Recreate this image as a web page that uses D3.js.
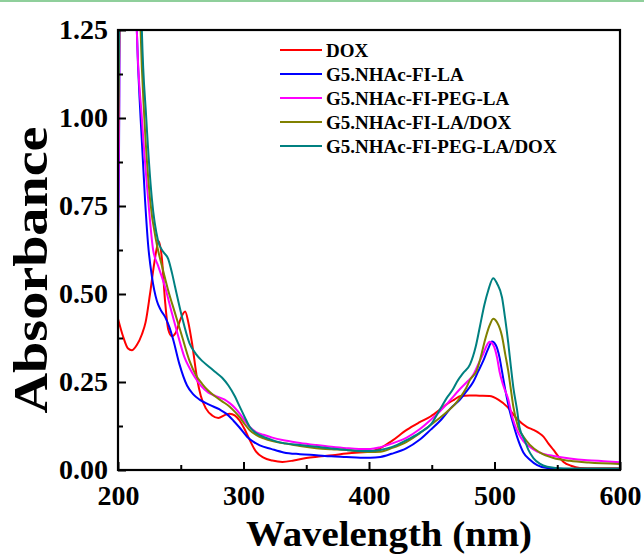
<!DOCTYPE html>
<meta charset="utf-8">
<head>
<style>
body { margin: 0; background: #fff; }
text { font-family: "Liberation Serif", "Times New Roman", serif; font-weight: bold; }
</style>
<script src="https://d3js.org/d3.v7.min.js"></script>
</head>
<body>
<div id="chart"></div>
<script>
// [wavelength nm, absorbance]
var dox = [[200,0.43],[204,0.38],[208,0.345],[211,0.34],[215,0.355],[219,0.385],[222,0.42],[225.5,0.5],[229,0.59],[232.5,0.65],[235,0.6],[237.5,0.48],[240,0.4],[243,0.38],[246,0.39],[250,0.43],[253.5,0.45],[256,0.42],[259,0.36],[263,0.26],[266,0.21],[270,0.175],[275,0.155],[280,0.148],[285,0.156],[289,0.16],[293,0.155],[297,0.14],[301,0.115],[305,0.085],[310,0.052],[316,0.035],[323,0.027],[331,0.023],[340,0.027],[350,0.034],[360,0.038],[371,0.042],[382,0.047],[392,0.05],[401,0.052],[409,0.062],[418,0.082],[430,0.114],[440,0.135],[449,0.152],[456,0.17],[462,0.187],[468,0.2],[473,0.21],[480,0.212],[488,0.211],[496,0.21],[503,0.2],[510,0.18],[518,0.145],[526,0.122],[531,0.114],[535,0.106],[539,0.095],[543,0.075],[547,0.057],[551,0.038],[555,0.023],[561,0.012],[568,0.006],[580,0.005],[600,0.005]];
var g5la = [[200,0.6],[200.8,0.9],[201.5,1.4],[214,1.4],[215,1.25],[218,1.0],[221.5,0.77],[224,0.64],[227,0.55],[231,0.48],[234,0.455],[237.5,0.435],[241,0.405],[244,0.37],[249,0.3],[255,0.24],[260,0.215],[265,0.2],[273,0.185],[281,0.172],[287,0.158],[292,0.14],[297,0.12],[303,0.094],[308,0.08],[313,0.07],[322,0.06],[332,0.05],[345,0.045],[358,0.042],[370,0.039],[382,0.037],[393,0.035],[401,0.035],[409,0.037],[418,0.046],[430,0.062],[440,0.085],[449,0.114],[458,0.145],[465,0.175],[472.5,0.2],[478,0.225],[483,0.25],[487,0.28],[491,0.31],[495,0.345],[498,0.365],[501,0.355],[504,0.32],[506,0.28],[509,0.22],[512,0.17],[515,0.13],[518,0.094],[523,0.05],[528,0.03],[534,0.014],[542,0.006],[560,0.003],[600,0.003]];
var g5pegla = [[200,0.67],[200.8,0.95],[201.5,1.4],[214,1.4],[215,1.25],[219,1.0],[224,0.77],[228,0.625],[232,0.58],[237.5,0.52],[243,0.445],[248,0.38],[253,0.32],[257,0.29],[261,0.265],[266,0.24],[272,0.22],[278,0.21],[285,0.2],[289,0.19],[293,0.177],[297,0.16],[301,0.14],[305,0.122],[310,0.108],[316,0.1],[323,0.092],[331,0.085],[345,0.077],[358,0.071],[370,0.066],[382,0.062],[392,0.06],[401,0.06],[409,0.065],[418,0.075],[430,0.092],[440,0.115],[449,0.142],[456,0.165],[462,0.187],[467,0.208],[472.5,0.23],[478,0.25],[483,0.27],[487,0.3],[491,0.33],[494,0.355],[496,0.364],[499,0.355],[502,0.32],[504,0.28],[507,0.24],[511,0.2],[513.5,0.16],[516,0.13],[519,0.105],[523,0.082],[528,0.066],[534,0.052],[540,0.045],[547,0.04],[560,0.033],[574,0.028],[587,0.025],[600,0.022]];
var g5laDox = [[200,0.9],[201,1.2],[201.8,1.4],[217,1.4],[218,1.25],[221,1.0],[225.5,0.77],[231,0.64],[235,0.58],[240,0.51],[245.5,0.445],[251,0.38],[257,0.31],[262,0.27],[267,0.245],[272,0.225],[277,0.21],[283,0.195],[289,0.18],[293,0.166],[297,0.15],[301,0.13],[305,0.113],[310,0.1],[316,0.09],[323,0.082],[332,0.076],[345,0.068],[358,0.062],[370,0.059],[382,0.057],[392,0.053],[401,0.051],[409,0.052],[418,0.062],[430,0.08],[440,0.103],[449,0.128],[456,0.147],[462,0.165],[468,0.185],[472.5,0.205],[477,0.23],[480.5,0.256],[486,0.284],[489,0.32],[492.5,0.37],[496,0.41],[499,0.43],[502,0.42],[506,0.38],[508.5,0.33],[511,0.28],[513,0.23],[515,0.18],[519,0.12],[523,0.095],[528,0.072],[536,0.05],[547,0.034],[560,0.026],[575,0.021],[600,0.017]];
var g5peglaDox = [[200,1.0],[200.8,1.25],[201.5,1.4],[218,1.4],[219,1.25],[222.5,1.0],[227,0.77],[232,0.65],[236,0.62],[240,0.6],[243,0.56],[245.5,0.52],[251,0.435],[257,0.36],[262,0.33],[267,0.31],[272,0.295],[277,0.28],[283,0.262],[288,0.24],[293,0.21],[297,0.18],[301,0.15],[305,0.122],[310,0.105],[316,0.094],[323,0.085],[331,0.077],[345,0.071],[358,0.066],[370,0.061],[382,0.057],[392,0.054],[401,0.054],[409,0.057],[418,0.065],[430,0.085],[440,0.105],[449,0.128],[456.5,0.172],[462,0.205],[467,0.23],[470,0.25],[475,0.275],[480.5,0.3],[485,0.35],[488.5,0.41],[492,0.47],[495,0.51],[499,0.545],[502,0.53],[506,0.49],[508.5,0.43],[511,0.36],[513,0.295],[515,0.235],[518,0.17],[520,0.12],[524,0.085],[527,0.057],[531,0.034],[536,0.018],[542,0.009],[555,0.004],[600,0.004]];

var seriesNames = ["DOX", "G5.NHAc-FI-LA", "G5.NHAc-FI-PEG-LA", "G5.NHAc-FI-LA/DOX", "G5.NHAc-FI-PEG-LA/DOX"];
var seriesData = [dox, g5la, g5pegla, g5laDox, g5peglaDox];
var seriesColors = ["#ff0000", "#0000ff", "#ff00ff", "#808000", "#008080"];

var xTicks = [200, 300, 400, 500, 600];
var xMinor = [250, 350, 450, 550];
var yTicks = [0, 0.25, 0.5, 0.75, 1.0, 1.25];
var yMinor = [0.125, 0.375, 0.625, 0.875, 1.125];

var width = 644, height = 554;
var margin = {left: 118, right: 24, top: 30, bottom: 84};

var svg = d3.select("#chart").append("svg")
    .attr("width", width)
    .attr("height", height);

// thin green rule at the very top
svg.append("rect")
    .attr("x", 0).attr("y", 0)
    .attr("width", width).attr("height", 2)
    .attr("fill", "#8fcf9b");

var x = d3.scaleLinear().domain([200, 600]).range([margin.left, width - margin.right]);
var y = d3.scaleLinear().domain([0, 1.25]).range([height - margin.bottom, margin.top]);

svg.append("clipPath").attr("id", "clip")
  .append("rect")
    .attr("x", x(200)).attr("y", y(1.25))
    .attr("width", x(600) - x(200)).attr("height", y(0) - y(1.25));

var line = d3.line()
    .x(function(d) { return x(d[0]); })
    .y(function(d) { return y(d[1]); })
    .curve(d3.curveMonotoneX);

var plot = svg.append("g").attr("clip-path", "url(#clip)");
seriesData.forEach(function(d, i) {
  plot.append("path")
      .datum(d)
      .attr("fill", "none")
      .attr("stroke", seriesColors[i])
      .attr("stroke-width", 2)
      .attr("stroke-linejoin", "round")
      .attr("d", line);
});

// axes: ticks point inward
svg.append("g")
    .attr("transform", "translate(0," + y(0) + ")")
    .call(d3.axisBottom(x).tickValues(xTicks).tickSize(-8).tickPadding(15).tickFormat(d3.format("d")));
svg.append("g")
    .attr("transform", "translate(0," + y(0) + ")")
    .call(d3.axisBottom(x).tickValues(xMinor).tickSize(-5).tickFormat(""));

svg.append("g")
    .attr("transform", "translate(" + x(200) + ",0)")
    .call(d3.axisLeft(y).tickValues(yTicks).tickSize(-8).tickPadding(10).tickFormat(d3.format(".2f")));
svg.append("g")
    .attr("transform", "translate(" + x(200) + ",0)")
    .call(d3.axisLeft(y).tickValues(yMinor).tickSize(-5).tickFormat(""));

svg.selectAll(".domain").remove();
svg.selectAll(".tick line").attr("stroke", "#000").attr("stroke-width", 2);
svg.selectAll(".tick text")
    .attr("fill", "#000")
    .style("font-size", "28px");

// frame
svg.append("rect")
    .attr("x", x(200)).attr("y", y(1.25))
    .attr("width", x(600) - x(200)).attr("height", y(0) - y(1.25))
    .attr("fill", "none")
    .attr("stroke", "#000")
    .attr("stroke-width", 2.2);

// axis titles (the source figure is a bit condensed sideways)
svg.append("text")
    .attr("transform", "translate(" + ((x(200) + x(600)) / 2 + 20) + ",546) scale(1.08,1)")
    .attr("text-anchor", "middle")
    .style("font-size", "36px")
    .text("Wavelength (nm)");

svg.append("text")
    .attr("transform", "translate(47,270) rotate(-90) scale(1.17,1)")
    .attr("text-anchor", "middle")
    .style("font-size", "48px")
    .text("Absorbance");

// legend
var legend = svg.append("g").attr("transform", "translate(280,50)");
seriesNames.forEach(function(name, i) {
  var row = legend.append("g").attr("transform", "translate(0," + (i * 24) + ")");
  row.append("line")
      .attr("x1", 0).attr("x2", 42)
      .attr("y1", 0).attr("y2", 0)
      .attr("stroke", seriesColors[i])
      .attr("stroke-width", 2);
  row.append("text")
      .attr("x", 46)
      .attr("y", 6.5)
      .style("font-size", "19px")
      .text(name);
});
</script>
</body>
